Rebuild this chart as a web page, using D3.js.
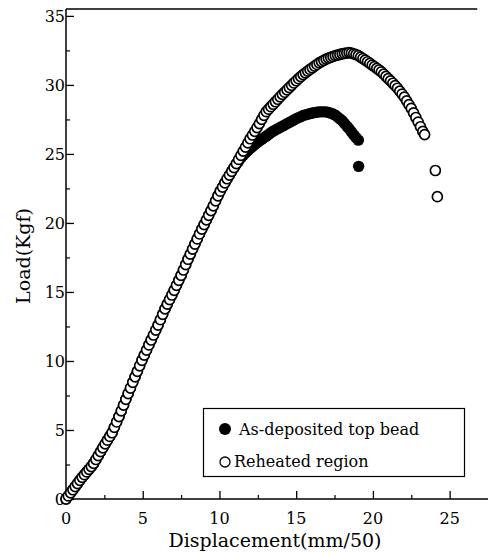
<!DOCTYPE html>
<html><head><meta charset="utf-8">
<script src="https://cdn.jsdelivr.net/npm/d3@7"></script>
<style>body{margin:0;background:#fff}svg{display:block}</style>
</head><body><svg id="c" width="488" height="553"></svg>
<script>
// ---- data ----
const xTicks = [0, 5, 10, 15, 20, 25];
const xMinorTicks = [2.5, 7.5, 12.5, 17.5, 22.5];
const yTicks = [0, 5, 10, 15, 20, 25, 30, 35];
const yMinorTicks = [2.5, 7.5, 12.5, 17.5, 22.5, 27.5, 32.5];

const displacement = [0,0.15,0.3,0.45,0.6,0.75,0.9,1.05,1.2,1.35,1.5,1.65,1.8,1.95,2.1,2.25,2.4,2.55,2.7,2.85,3,3.15,3.3,3.45,3.6,3.75,3.9,4.05,4.2,4.35,4.5,4.65,4.8,4.95,5.1,5.25,5.4,5.55,5.7,5.85,6,6.15,6.3,6.45,6.6,6.75,6.9,7.05,7.2,7.35,7.5,7.65,7.8,7.95,8.1,8.25,8.4,8.55,8.7,8.85,9,9.15,9.3,9.45,9.6,9.75,9.9,10.05,10.2,10.35,10.5,10.65,10.8,10.95,11.1,11.25,11.4,11.55,11.7,11.85,12,12.15,12.3,12.45,12.6,12.75,12.9,13.05,13.2,13.35,13.5,13.65,13.8,13.95,14.1,14.25,14.4,14.55,14.7,14.85,15,15.15,15.3,15.45,15.6,15.75,15.9,16.05,16.2,16.35,16.5,16.65,16.8,16.95,17.1,17.25,17.4,17.55,17.7,17.85,18,18.15,18.3,18.45,18.6,18.75,18.9,19.05,19.2,19.35,19.5,19.65,19.8,19.95,20.1,20.25,20.4,20.55,20.7,20.85,21,21.15,21.3,21.45,21.6,21.75,21.9,22.05,22.2,22.35,22.5,22.65,22.8,22.95,23.1,23.25,23.37];

const loadReheated = [0,0.22,0.45,0.67,0.9,1.12,1.35,1.57,1.76,1.96,
2.15,2.35,2.58,2.86,3.14,3.43,3.71,3.99,4.26,4.53,
4.8,5.19,5.58,5.97,6.38,6.8,7.22,7.64,8.04,8.45,
8.85,9.25,9.65,10.05,10.42,10.79,11.16,11.52,11.88,12.24,
12.6,12.99,13.38,13.77,14.12,14.45,14.78,15.12,15.48,15.84,
16.2,16.59,16.98,17.37,17.74,18.11,18.47,18.84,19.2,19.55,
19.88,20.22,20.55,20.89,21.24,21.6,21.96,22.3,22.6,22.9,
23.2,23.47,23.74,24.01,24.3,24.6,24.9,25.2,25.5,25.8,
26.1,26.37,26.64,26.91,27.2,27.5,27.8,28.06,28.24,28.42,
28.6,28.78,28.96,29.14,29.31,29.47,29.64,29.81,29.97,30.14,
30.3,30.45,30.6,30.75,30.88,31,31.12,31.24,31.36,31.48,
31.6,31.69,31.78,31.87,31.94,32,32.06,32.12,32.16,32.21,
32.25,32.28,32.31,32.34,32.31,32.25,32.19,32.12,32.01,31.91,
31.8,31.68,31.56,31.44,31.32,31.2,31.08,30.95,30.78,30.62,
30.45,30.29,30.12,29.95,29.76,29.55,29.34,29.11,28.84,28.57,
28.3,27.97,27.64,27.31,26.97,26.63,26.4];
const reheatedExtraDisp = [24.07, 24.2];
const reheatedExtraLoad = [23.8, 21.9];

const loadAsDeposited = [0,0.22,0.45,0.67,0.9,1.12,1.35,1.57,1.76,1.96,
2.15,2.35,2.58,2.86,3.14,3.43,3.71,3.99,4.26,4.53,
4.8,5.19,5.58,5.97,6.38,6.8,7.22,7.64,8.04,8.45,
8.85,9.25,9.65,10.05,10.42,10.79,11.16,11.52,11.88,12.24,
12.6,12.99,13.38,13.77,14.12,14.45,14.78,15.12,15.48,15.84,
16.2,16.59,16.98,17.37,17.74,18.11,18.47,18.84,19.2,19.55,
19.88,20.22,20.55,20.89,21.24,21.6,21.96,22.3,22.6,22.9,
23.2,23.47,23.74,24.01,
24.25,24.48,24.7,24.91,25.07,25.24,25.4,25.54,25.67,25.81,
25.93,26.05,26.17,26.29,26.41,26.53,26.65,26.74,26.83,26.92,
27.01,27.1,27.19,27.28,27.37,27.46,27.55,27.63,27.7,27.78,
27.83,27.88,27.92,27.96,27.99,28.02,28.05,28.05,28.05,28.05,
28.01,27.95,27.89,27.81,27.67,27.54,27.4,27.2,27.01,26.82,
26.6,26.38,26.18,26.0];
const asDepExtraDisp = [19.07];
const asDepExtraLoad = [24.1];

const legendLabels = ["As-deposited top bead", "Reheated region"];
const xTitle = "Displacement(mm/50)";
const yTitle = "Load(Kgf)";

// ---- drawing ----
const svg = d3.select("#c");
const FONT = "'DejaVu Serif', serif";
const x = d3.scaleLinear().domain([0, 27.5]).range([66, 488]);
const y = d3.scaleLinear().domain([0, 35.5]).range([499, 9]);

const asDep = loadAsDeposited.map((v, i) => [displacement[i], v])
  .concat(asDepExtraDisp.map((d, i) => [d, asDepExtraLoad[i]]));
const reheat = loadReheated.map((v, i) => [displacement[i], v])
  .concat(reheatedExtraDisp.map((d, i) => [d, reheatedExtraLoad[i]]));

// axes
const gx = svg.append("g").attr("transform", `translate(0,${y(0)})`);
gx.call(d3.axisTop(x).tickValues(xTicks).tickSize(8).tickFormat(""));
gx.select(".domain").remove();
gx.selectAll(".tick line").attr("stroke", "#000").attr("stroke-width", 1.3);
const gxm = svg.append("g").attr("transform", `translate(0,${y(0)})`);
gxm.call(d3.axisTop(x).tickValues(xMinorTicks).tickSize(4).tickFormat(""));
gxm.select(".domain").remove();
gxm.selectAll(".tick line").attr("stroke", "#000").attr("stroke-width", 1.2);

const gy = svg.append("g").attr("transform", `translate(${x(0)},0)`);
gy.call(d3.axisRight(y).tickValues(yTicks).tickSize(8).tickFormat(""));
gy.select(".domain").remove();
gy.selectAll(".tick line").attr("stroke", "#000").attr("stroke-width", 1.3);
const gym = svg.append("g").attr("transform", `translate(${x(0)},0)`);
gym.call(d3.axisRight(y).tickValues(yMinorTicks).tickSize(4).tickFormat(""));
gym.select(".domain").remove();
gym.selectAll(".tick line").attr("stroke", "#000").attr("stroke-width", 1.2);

// frame lines
svg.append("line").attr("x1", x(0)).attr("x2", x(27.5)).attr("y1", y(0)).attr("y2", y(0))
  .attr("stroke", "#000").attr("stroke-width", 1.5);
svg.append("line").attr("x1", x(0)).attr("x2", x(0)).attr("y1", y(0)).attr("y2", y(35.5))
  .attr("stroke", "#000").attr("stroke-width", 1.5);
svg.append("line").attr("x1", x(0)).attr("x2", x(26.8)).attr("y1", y(35.5)).attr("y2", y(35.5))
  .attr("stroke", "#000").attr("stroke-width", 1.3);

// tick labels
svg.append("g").selectAll("text").data(xTicks).join("text")
  .attr("x", d => x(d)).attr("y", 523.5).attr("text-anchor", "middle")
  .attr("font-family", FONT).attr("font-size", 16).text(d => d);
svg.append("g").selectAll("text").data(yTicks).join("text")
  .attr("x", 65).attr("y", d => y(d)).attr("dy", "0.36em").attr("text-anchor", "end")
  .attr("font-family", FONT).attr("font-size", 16).text(d => d);

// titles
svg.append("text").attr("x", 275).attr("y", 547).attr("text-anchor", "middle")
  .attr("font-family", FONT).attr("font-size", 19).text(xTitle);
svg.append("text").attr("transform", "translate(30,256) rotate(-90)").attr("text-anchor", "middle")
  .attr("font-family", FONT).attr("font-size", 19).text(yTitle);

// data
svg.append("g").selectAll("circle").data(asDep).join("circle")
  .attr("cx", d => x(d[0])).attr("cy", d => y(d[1])).attr("r", 5.7).attr("fill", "#000");
svg.append("g").selectAll("circle").data(reheat).join("circle")
  .attr("cx", d => x(d[0])).attr("cy", d => y(d[1])).attr("r", 5)
  .attr("fill", "#fff").attr("stroke", "#000").attr("stroke-width", 1.7);

// legend
const lg = svg.append("g");
lg.append("rect").attr("x", 203.5).attr("y", 408.5).attr("width", 261).attr("height", 68)
  .attr("fill", "#fff").attr("stroke", "#000").attr("stroke-width", 1.2);
lg.append("circle").attr("cx", 225).attr("cy", 429).attr("r", 6).attr("fill", "#000");
lg.append("circle").attr("cx", 225).attr("cy", 462).attr("r", 5)
  .attr("fill", "#fff").attr("stroke", "#000").attr("stroke-width", 1.3);
lg.append("text").attr("x", 239).attr("y", 435).attr("font-family", FONT).attr("font-size", 16).text(legendLabels[0]);
lg.append("text").attr("x", 234).attr("y", 467).attr("font-family", FONT).attr("font-size", 16).text(legendLabels[1]);
</script>
</body></html>
